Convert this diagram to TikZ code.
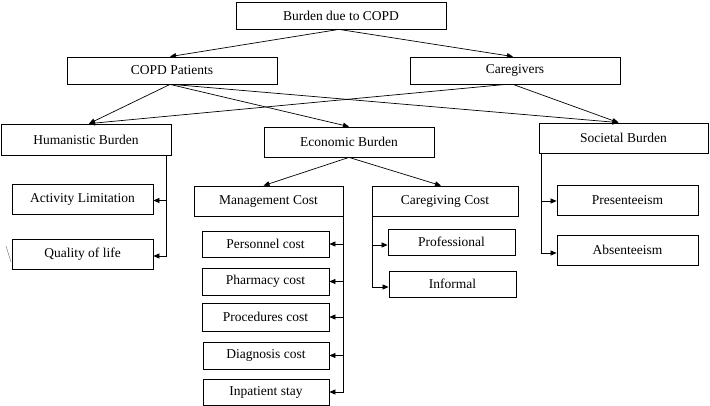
\documentclass[tikz,border=0pt]{standalone}
\usepackage{fontspec}
\setmainfont{Liberation Serif}
\usetikzlibrary{arrows.meta,calc}
\begin{document}
\begin{tikzpicture}[x=1pt,y=-1pt,
  box/.style={draw=black,line width=0.8pt,inner sep=0pt,font=\fontsize{13.5}{16}\selectfont},
  arr/.style={draw=black,line width=0.7pt,-{Triangle[length=6pt,width=5pt]}},
  ln/.style={draw=black,line width=0.7pt}]
\useasboundingbox (0,0) rectangle (710,406);
\fill[white] (0,0) rectangle (710,406);
% nodes
\node[box,minimum width=210,minimum height=27] (top) at (341,15.5) {Burden due to COPD};
\node[box,minimum width=210,minimum height=27] (pat) at (172,70.5) {COPD Patients};
\node[box,minimum width=210,minimum height=27] (care) at (515,70.5) {Caregivers};
\node[box,minimum width=170,minimum height=31] (hum) at (86,139.5) {Humanistic Burden};
\node[box,minimum width=170,minimum height=30] (eco) at (349,142) {Economic Burden};
\node[box,minimum width=169,minimum height=30] (soc) at (623.5,138) {Societal Burden};
\node[box,minimum width=141,minimum height=30] (act) at (82.5,199) {Activity Limitation};
\node[box,minimum width=141,minimum height=30] (qol) at (82.5,254) {Quality of life};
\node[box,minimum width=149,minimum height=30] (mgmt) at (268.5,201) {Management Cost};
\node[box,minimum width=146,minimum height=30] (cgc) at (445,201) {Caregiving Cost};
\node[box,minimum width=127,minimum height=26] (pers) at (265.5,244) {Personnel cost};
\node[box,minimum width=127,minimum height=27] (pharm) at (265.5,281.5) {Pharmacy cost};
\node[box,minimum width=127,minimum height=28] (proc) at (265.5,317) {Procedures cost};
\node[box,minimum width=126,minimum height=27] (diag) at (266,355.5) {Diagnosis cost};
\node[box,minimum width=126,minimum height=26] (inp) at (266,392) {Inpatient stay};
\node[box,minimum width=127,minimum height=26] (prof) at (451.5,242) {Professional};
\node[box,minimum width=127,minimum height=26] (inf) at (452.5,284) {Informal};
\node[box,minimum width=141,minimum height=30] (pres) at (627.5,200) {Presenteeism};
\node[box,minimum width=141,minimum height=30] (abs) at (627.5,250) {Absenteeism};
% top level
\draw[arr] ([xshift=-2pt]top.south) -- ([xshift=-2pt]pat.north);
\draw[arr] ([xshift=-2pt]top.south) -- ([xshift=-2pt]care.north);
% second level
\draw[arr] ([xshift=-2pt]pat.south) -- ([xshift=3pt]hum.north);
\draw[arr] ([xshift=-2pt]pat.south) -- (eco.north);
\draw[arr] (pat.south) -- ([xshift=-5pt]soc.north);
\draw[arr] ([xshift=-9pt]care.south) -- ([xshift=3pt]hum.north);
\draw[arr] ([xshift=-2pt]care.south) -- ([xshift=-5pt]soc.north);
% economic
\draw[arr] (eco.south) -- ([xshift=-5pt]mgmt.north);
\draw[arr] (eco.south) -- ([xshift=-4pt]cgc.north);
% humanistic
\coordinate (hx) at ([xshift=-5pt]hum.south east);
\draw[arr] (hx) |- ([yshift=-1.5pt]act.east);
\draw[arr] (hx) |- ([yshift=-2pt]qol.east);
% management
\coordinate (mx) at (mgmt.south east);
\draw[arr] (mx) |- (pers.east);
\draw[arr] (mx) |- (pharm.east);
\draw[arr] (mx) |- (proc.east);
\draw[arr] (mx) |- (diag.east);
\draw[arr] (mx) |- (inp.east);
% caregiving
\coordinate (cx) at ([xshift=1pt]cgc.south west);
\draw[arr] (cx) |- ([yshift=-3pt]prof.west);
\draw[arr] (cx) |- ([yshift=-3pt]inf.west);
% societal
\coordinate (sx) at ([xshift=3pt]soc.south west);
\draw[arr] (sx) |- ([yshift=-1pt]pres.west);
\draw[arr] (sx) |- ([yshift=-3pt]abs.west);
% stray mark
\draw[gray,line width=0.5pt] (6,246) -- (11,262);
\end{tikzpicture}
\end{document}
